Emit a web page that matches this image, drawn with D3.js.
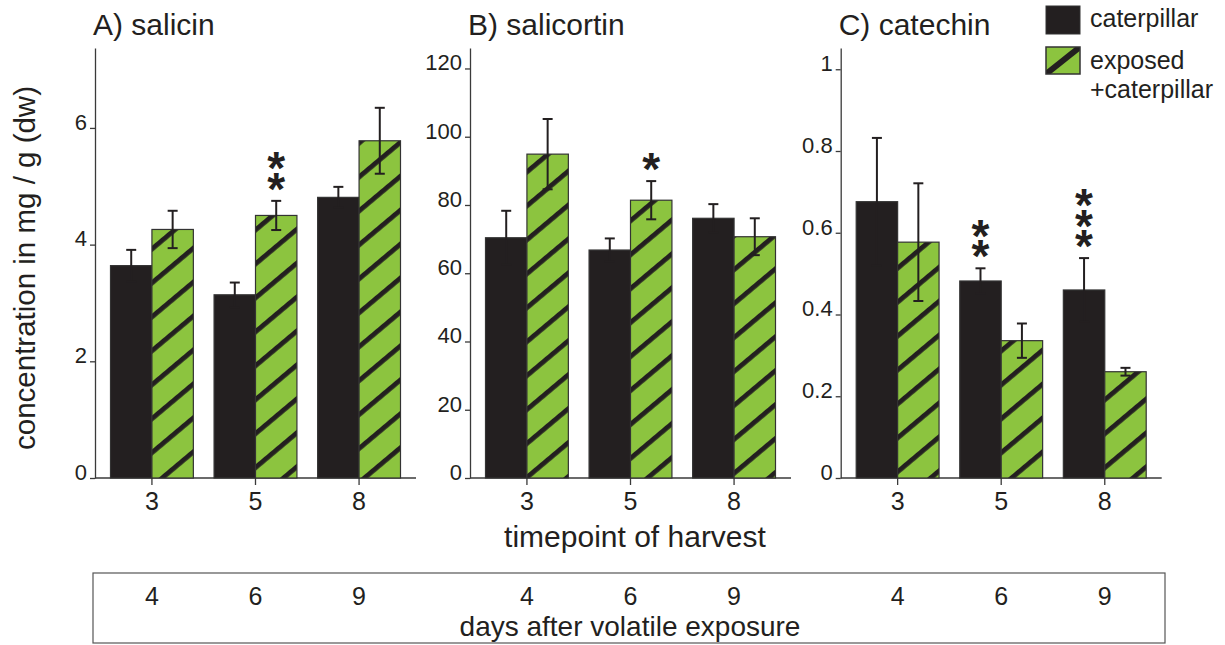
<!DOCTYPE html>
<html><head><meta charset="utf-8">
<script src="https://cdn.jsdelivr.net/npm/d3@7"></script>
<style>
body{margin:0;background:#fff;}
svg text{font-family:"Liberation Sans",Arial,Helvetica,sans-serif;fill:#231f20;}
text.stars{writing-mode:vertical-rl;text-orientation:upright;}
</style></head><body>
<svg id="chart" width="1225" height="645"></svg>
<script>
// ---- data ----
const categories = ["3", "5", "8"];            // timepoint of harvest
const dayLabels = ["4", "6", "9"];             // days after volatile exposure
const seriesNames = ["caterpillar", "exposed"];
const legendLabels = [["caterpillar"], ["exposed", "+caterpillar"]];

const salicinCaterpillar = [3.64, 3.14, 4.81];
const salicinCaterpillarErr = [0.27, 0.21, 0.18];
const salicinExposed = [4.26, 4.50, 5.78];
const salicinExposedErr = [0.32, 0.25, 0.565];

const salicortinCaterpillar = [70.4, 66.8, 76.1];
const salicortinCaterpillarErr = [7.9, 3.4, 4.15];
const salicortinExposed = [94.9, 81.4, 70.7];
const salicortinExposedErr = [10.3, 5.6, 5.4];

const catechinCaterpillar = [0.676, 0.482, 0.460];
const catechinCaterpillarErr = [0.156, 0.031, 0.078];
const catechinExposed = [0.577, 0.336, 0.260];
const catechinExposedErr = [0.144, 0.042, 0.0095];

const salicinTicks = [0, 2, 4, 6];
const salicortinTicks = [0, 20, 40, 60, 80, 100, 120];
const catechinTicks = [0, 0.2, 0.4, 0.6, 0.8, 1];

const salicinStars = [{cat: "5", series: "exposed", n: 2}];
const salicortinStars = [{cat: "5", series: "exposed", n: 1}];
const catechinStars = [{cat: "5", series: "caterpillar", n: 2}, {cat: "8", series: "caterpillar", n: 3}];

const panels = [
  {title: "A) salicin", cat: salicinCaterpillar, catErr: salicinCaterpillarErr, exp: salicinExposed, expErr: salicinExposedErr, max: 7.37, ticks: salicinTicks, stars: salicinStars},
  {title: "B) salicortin", cat: salicortinCaterpillar, catErr: salicortinCaterpillarErr, exp: salicortinExposed, expErr: salicortinExposedErr, max: 126, ticks: salicortinTicks, stars: salicortinStars},
  {title: "C) catechin", cat: catechinCaterpillar, catErr: catechinCaterpillarErr, exp: catechinExposed, expErr: catechinExposedErr, max: 1.052, ticks: catechinTicks, stars: catechinStars}
];

// ---- layout ----
const panelX = [95, 470, 840.7];
const yTop = 48, yBase = 478;
const GREEN = "#8cc43f", BLACK = "#231f20", AX = "#3a3a3a";

const svg = d3.select("#chart");
const defs = svg.append("defs");
const pat = defs.append("pattern").attr("id", "hatch")
  .attr("patternUnits", "userSpaceOnUse").attr("width", 10).attr("height", 26)
  .attr("patternTransform", "rotate(-40)");
pat.append("rect").attr("width", 10).attr("height", 26).attr("fill", GREEN);
pat.append("rect").attr("width", 10).attr("height", 4.8).attr("fill", BLACK);

panels.forEach((p, pi) => {
  const x0 = panelX[pi];
  const g = svg.append("g");
  const x = d3.scaleBand().domain(categories).range([x0 + 15.5, x0 + 305.5]).paddingInner(0.2).paddingOuter(0);
  const xs = d3.scaleBand().domain(seriesNames).range([0, x.bandwidth()]);
  const y = d3.scaleLinear().domain([0, p.max]).range([yBase, yTop]);

  // title
  g.append("text").attr("x", x0 - 2).attr("y", 35).attr("font-size", 30).text(p.title);

  // y axis
  const fmt = d3.format("~g");
  const ya = g.append("g").attr("transform", `translate(${x0},0)`)
    .call(d3.axisLeft(y).tickValues(p.ticks).tickFormat(fmt).tickSize(5).tickSizeOuter(0).tickPadding(3));
  ya.select(".domain").attr("stroke", AX).attr("stroke-width", 1.3);
  ya.selectAll(".tick line").attr("stroke", AX).attr("stroke-width", 1.3);
  ya.selectAll(".tick text").attr("font-size", 22).attr("font-family", null).attr("fill", BLACK).attr("dy", "0.06em");

  // x axis
  const xa = g.append("g").attr("transform", `translate(0,${yBase})`)
    .call(d3.axisBottom(x).tickSize(7).tickSizeOuter(0).tickPadding(7));
  xa.select(".domain").remove();
  xa.selectAll(".tick line").attr("stroke", AX).attr("stroke-width", 1.3);
  xa.selectAll(".tick text").attr("font-size", 25).attr("font-family", null).attr("fill", BLACK);
  g.append("line").attr("x1", x0).attr("x2", x0 + 321).attr("y1", yBase).attr("y2", yBase)
    .attr("stroke", AX).attr("stroke-width", 1.3);

  // bars
  const rows = [];
  categories.forEach((c, i) => {
    rows.push({c, s: "caterpillar", v: p.cat[i], e: p.catErr[i]});
    rows.push({c, s: "exposed", v: p.exp[i], e: p.expErr[i]});
  });
  g.selectAll("rect.bar").data(rows).join("rect").attr("class", "bar")
    .attr("x", d => x(d.c) + xs(d.s)).attr("width", xs.bandwidth())
    .attr("y", d => y(d.v)).attr("height", d => y(0) - y(d.v))
    .attr("fill", d => d.s === "caterpillar" ? BLACK : "url(#hatch)")
    .attr("stroke", "#333").attr("stroke-width", 1.2);

  // error bars
  const eb = g.selectAll("g.eb").data(rows).join("g").attr("class", "eb")
    .attr("stroke", BLACK).attr("stroke-width", 2);
  const cx = d => x(d.c) + xs(d.s) + xs.bandwidth() / 2;
  eb.append("line").attr("x1", cx).attr("x2", cx).attr("y1", d => y(d.v - d.e)).attr("y2", d => y(d.v + d.e));
  eb.append("line").attr("x1", d => cx(d) - 5).attr("x2", d => cx(d) + 5).attr("y1", d => y(d.v - d.e)).attr("y2", d => y(d.v - d.e));
  eb.append("line").attr("x1", d => cx(d) - 5).attr("x2", d => cx(d) + 5).attr("y1", d => y(d.v + d.e)).attr("y2", d => y(d.v + d.e));

  // significance stars: one vertical text per marker, stacked glyphs
  p.stars.forEach(st => {
    const r = rows.find(d => d.c === st.cat && d.s === st.series);
    const top = y(r.v + r.e);
    const firstCenter = top - 19 - (st.n - 1) * 20.5;
    g.append("text").attr("class", "stars")
      .attr("x", cx(r)).attr("y", firstCenter - 19)
      .attr("font-size", 46).attr("font-weight", "bold")
      .style("letter-spacing", "-31.5px")
      .text("*".repeat(st.n));
  });

  // days after exposure labels
  g.selectAll("text.day").data(categories).join("text").attr("class", "day")
    .attr("x", d => x(d) + x.bandwidth() / 2).attr("y", 605).attr("text-anchor", "middle")
    .attr("font-size", 25).text((d, i) => dayLabels[i]);
});

// y-axis title
svg.append("text").attr("transform", "translate(35,268) rotate(-90)").attr("text-anchor", "middle")
  .attr("font-size", 29.5).text("concentration in mg / g (dw)");

// x-axis title
svg.append("text").attr("x", 635).attr("y", 547).attr("text-anchor", "middle")
  .attr("font-size", 30).text("timepoint of harvest");

// bottom box
svg.append("rect").attr("x", 93).attr("y", 573).attr("width", 1072).attr("height", 70)
  .attr("fill", "none").attr("stroke", "#555").attr("stroke-width", 1.2);
svg.append("text").attr("x", 630).attr("y", 636).attr("text-anchor", "middle")
  .attr("font-size", 28).text("days after volatile exposure");

// legend
const lg = svg.append("g");
lg.append("rect").attr("x", 1046).attr("y", 6).attr("width", 34).attr("height", 28)
  .attr("fill", BLACK).attr("stroke", "#333");
defs.append("clipPath").attr("id", "legclip").append("rect")
  .attr("x", 1046).attr("y", 47).attr("width", 34).attr("height", 27);
lg.append("rect").attr("x", 1046).attr("y", 47).attr("width", 34).attr("height", 27).attr("fill", GREEN);
lg.append("line").attr("x1", 1046).attr("y1", 74).attr("x2", 1080).attr("y2", 47)
  .attr("stroke", BLACK).attr("stroke-width", 6).attr("clip-path", "url(#legclip)");
lg.append("rect").attr("x", 1046).attr("y", 47).attr("width", 34).attr("height", 27)
  .attr("fill", "none").attr("stroke", "#333").attr("stroke-width", 1.5);
const legY = [[27], [68.5, 98]];
legendLabels.forEach((lines, i) => {
  lines.forEach((t, j) => {
    lg.append("text").attr("x", 1090).attr("y", legY[i][j]).attr("font-size", 25).text(t);
  });
});
</script>
</body></html>
